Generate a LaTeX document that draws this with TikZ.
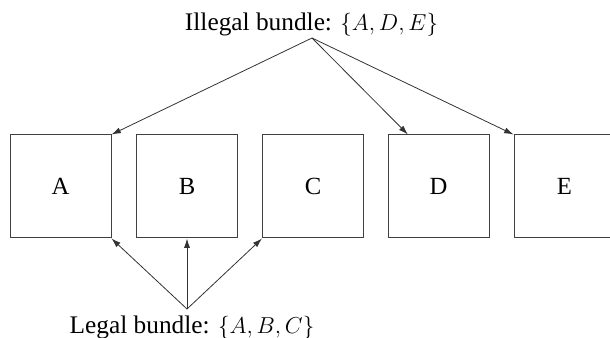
\documentclass[tikz,border=0pt]{standalone}
\usepackage{fontspec}
\setmainfont{Liberation Serif}
\usetikzlibrary{arrows.meta,calc}
\begin{document}
\begin{tikzpicture}[x=0.75pt,y=-0.75pt,
  box/.style={draw=black!75,line width=0.75pt,minimum width=101*0.75pt,minimum height=103*0.75pt,inner sep=0pt,font=\fontsize{18.5}{20}\selectfont},
  lab/.style={inner sep=0pt,font=\fontsize{19}{21}\selectfont},
  arr/.style={draw=black!80,line width=0.6pt,-{Latex[length=7pt,width=4.5pt]}}]
\useasboundingbox (0,0) rectangle (610,338);
\node[box] (A) at (60.5,186.5) {A};
\node[box] (B) at (187,186.5) {B};
\node[box] (C) at (313,186.5) {C};
\node[box] (D) at (438.5,186.5) {D};
\node[box] (E) at (564.5,186.5) {E};
\node[lab,anchor=base] (ill) at (311.5,31) {Illegal bundle: $\{A,D,E\}$};
\node[lab,anchor=base] (leg) at (192,333) {Legal bundle: $\{A,B,C\}$};
\coordinate (is) at (312,38);
\coordinate (ls) at (187,309);
\coordinate (dt) at ($(D.north west)!0.2!(D.north east)$);
\draw[arr] (is) -- (A.north east);
\draw[arr] (is) -- (dt);
\draw[arr] (is) -- (E.north west);
\draw[arr] (ls) -- (A.south east);
\draw[arr] (ls) -- (B.south);
\draw[arr] (ls) -- (C.south west);
\end{tikzpicture}
\end{document}
